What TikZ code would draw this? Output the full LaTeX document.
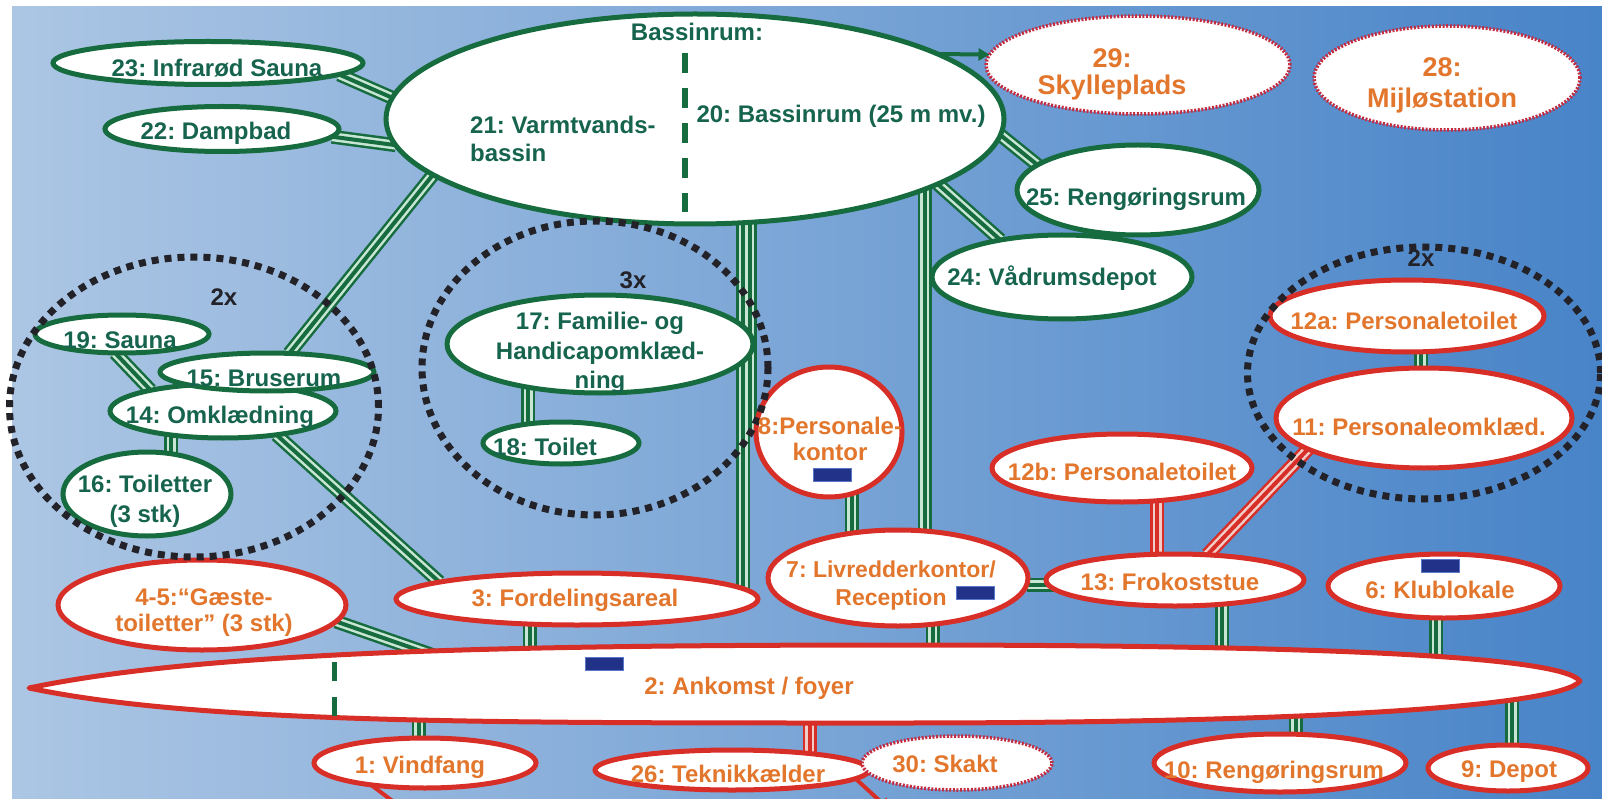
\documentclass[tikz,border=0pt]{standalone}
\usepackage{fontspec}
\setmainfont{Liberation Sans}
\usetikzlibrary{shapes.geometric,arrows.meta,calc}
\frenchspacing
\definecolor{bgL}{RGB}{172,198,228}
\definecolor{bgR}{RGB}{72,132,200}
\definecolor{gline}{RGB}{22,108,62}
\definecolor{glight}{RGB}{200,230,212}
\definecolor{gtext}{RGB}{22,100,78}
\definecolor{rline}{RGB}{216,46,40}
\definecolor{rlight}{RGB}{242,205,200}
\definecolor{otext}{RGB}{226,118,44}
\definecolor{rdot}{RGB}{196,44,66}
\definecolor{dotc}{RGB}{34,34,40}
\definecolor{navy}{RGB}{34,50,136}
\definecolor{navyedge}{RGB}{90,120,200}
\newcommand\fsz[2]{\fontsize{#1}{#2}\selectfont}
\pgfdeclarelayer{bg}
\pgfdeclarelayer{rails}
\pgfsetlayers{bg,rails,main}
\tikzset{
 roomE/.style={ellipse, fill=white, inner sep=0pt, outer sep=0pt},
 gE/.style={roomE, draw=gline, line width=5pt},
 rE/.style={roomE, draw=rline, line width=5pt},
 dE/.style={roomE, draw=rdot, line width=3.5pt, dash pattern=on 2pt off 1.6pt},
 anchorE/.style={ellipse, inner sep=0pt, outer sep=0pt},
 lensbox/.style={draw=rline, fill=white, line width=5pt, line join=round, line cap=round},
 lbl/.style={font=\bfseries\fsz{24}{28}, inner sep=0pt, align=center},
 gT/.style={lbl, text=gtext},
 oT/.style={lbl, text=otext},
 kT/.style={lbl, text=dotc},
 grp/.style={ellipse, draw=dotc, line width=7pt, dash pattern=on 7pt off 6pt, inner sep=0pt},
 railG/.style={draw=gline, line width=14pt, postaction={draw=glight, line width=9pt}, postaction={draw=gline, line width=4pt}},
 railR/.style={draw=rline, line width=14pt, postaction={draw=rlight, line width=9pt}, postaction={draw=rline, line width=4pt}},
 dashG/.style={draw=gline, line width=6pt, dash pattern=on 20pt off 15pt},
 tagbox/.style={rectangle, fill=navy, draw=navyedge, line width=1pt, minimum width=38pt, minimum height=13pt, inner sep=0pt},
 arrG/.style={draw=gline, line width=4pt, -{Triangle[length=11pt,width=12pt]}},
 arrR/.style={draw=rline, line width=4pt, -{Triangle[length=14pt,width=13pt]}},
}
\begin{document}
\begin{tikzpicture}[x=1pt,y=-1pt]
\useasboundingbox (0,0) rectangle (1602,799);
\begin{pgfonlayer}{bg}
\fill[white] (0,0) rectangle (1602,799);
\shade[left color=bgL, right color=bgR] (12,7) rectangle (1602,799);
\end{pgfonlayer}
\clip (0,0) rectangle (1602,799);
% green rooms
\node[gE, minimum width=618pt, minimum height=210pt] (big) at (695,119) {};
\node[gE, minimum width=310pt, minimum height=43pt] (n23) at (208,63) {};
\node[gE, minimum width=234pt, minimum height=45pt] (n22) at (222,129) {};
\node[gE, minimum width=242pt, minimum height=90pt] (n25) at (1138,190) {};
\node[gE, minimum width=260pt, minimum height=84pt] (n24) at (1062,277) {};
\node[gE, minimum width=174pt, minimum height=38pt] (n19) at (122,334) {};
\node[gE, minimum width=226pt, minimum height=54pt] (n14) at (223,411) {};
\node[gE, minimum width=214pt, minimum height=38pt] (n15) at (267,372) {};
\node[gE, minimum width=168pt, minimum height=84pt] (n16) at (147,494) {};
\node[gE, minimum width=306pt, minimum height=98pt] (n17) at (600,344) {};
\node[gE, minimum width=156pt, minimum height=42pt] (n18) at (561,443) {};
% red rooms
\node[rE, minimum width=146pt, minimum height=130pt] (n8) at (829,432) {};
\node[rE, minimum width=260pt, minimum height=68pt] (n12b) at (1122,468) {};
\node[rE, minimum width=274pt, minimum height=72pt] (n12a) at (1407,316) {};
\node[rE, minimum width=296pt, minimum height=100pt] (n11) at (1424,418) {};
\node[rE, minimum width=258pt, minimum height=52pt] (n13) at (1175,580) {};
\node[rE, minimum width=260pt, minimum height=96pt] (n7) at (898,578) {};
\node[rE, minimum width=232pt, minimum height=64pt] (n6) at (1444,586) {};
\node[rE, minimum width=362pt, minimum height=52pt] (n3) at (577,599) {};
\node[rE, minimum width=288pt, minimum height=90pt] (n45) at (202,605) {};
% foyer: lens-shaped room
\node[anchorE, minimum width=1552pt, minimum height=78pt] (n2) at (805,684) {};
\coordinate (tipL) at (29,688);
\coordinate (topM) at (900,645);
\coordinate (tipR) at (1580,681);
\coordinate (botM) at (900,723);
\draw[lensbox] (tipL) .. controls (200,652) and (500,645) .. (topM)
  .. controls (1300,645) and (1560,655) .. (tipR)
  .. controls (1560,707) and (1300,723) .. (botM)
  .. controls (500,723) and (200,724) .. (tipL) -- cycle;
\node[rE, minimum width=222pt, minimum height=50pt] (n1) at (425,763) {};
\node[rE, minimum width=274pt, minimum height=40pt] (n26) at (732,770) {};
\node[rE, minimum width=252pt, minimum height=58pt] (n10) at (1280,763) {};
\node[rE, minimum width=160pt, minimum height=46pt] (n9) at (1508,768) {};
\node[dE, minimum width=304pt, minimum height=98pt] (n29) at (1138,65) {};
\node[dE, minimum width=266pt, minimum height=104pt] (n28) at (1447,78) {};
\node[dE, minimum width=190pt, minimum height=54pt] (n30) at (957,763) {};
% connectors (behind rooms)
\begin{pgfonlayer}{rails}
\draw[railG] (n23.-5) -- (big.176);
\draw[railG] (n22.-4) -- (big.185);
\draw[railG] (big.192) -- (n15.40);
\draw[railG] (n19.-110) -- (n14.164);
\draw[railG] (n14.205) -- (n14.205 |- n16.center);
\draw[railG] (n14.-24) -- (n3.173);
\draw[railG] (big.-65.2) -- (big.-65.2 |- n3.center);
\draw[railG] (n3.208) -- (n3.208 |- n2.center);
\draw[railG] (n45.-7.2) -- ($(n45.-7.2)!1.3!(n2.175.67)$);
\draw[railG] (n2.185) -- (n2.185 |- n1.center);
\draw[railG] (n7.-53.5) -- (n7.-53.5 |- n2.center);
\draw[railG] (big.-17.8) -- (big.-17.8 |- n7.center);
\draw[railG] (big.-62.6) -- (big.-62.6 |- n8.center);
\draw[railG] (n8.-70.5) -- (n8.-70.5 |- n7.center);
\draw[railG] (n7.-3) -- (n7.-3 -| n13.center);
\draw[railG] (n13.-27.8) -- (n13.-27.8 |- n2.center);
\draw[railG] (n6.-104) -- (n6.-104 |- n2.center);
\draw[railG] (n2.center -| n10.61) -- (n10.61);
\draw[railG] (n2.center -| n9.80) -- (n9.80);
\draw[railG] (big.-3.6) -- (n25.166);
\draw[railG] (big.-15.7) -- (n24.149.6);
\draw[railG] (n12a.-68.6) -- (n12a.-68.6 |- n11.center);
\draw[railG] (n17.211.9) -- (n17.211.9 |- n18.center);
\draw[railR] (n12b.-43.3) -- (n12b.-43.3 |- n13.center);
\draw[railR] (n11.195.5) -- (n13.38);
\draw[railR] (n2.center -| n26.12.8) -- (n26.12.8);
\end{pgfonlayer}
% arrows
\draw[arrG] (big.15) -- (n29.176);
\coordinate (e1) at (410,814);
\draw[arrR] (n1.202.5) -- (e1);
\coordinate (e26) at (892,812);
\draw[arrR] (n26.-4.2) -- (e26);
% dashed dividers
\coordinate (da) at (685,53); \coordinate (db) at (685,212);
\draw[dashG] (da) -- (db);
\coordinate (dc) at (334,662); \coordinate (dd) at (334,716);
\draw[dashG, line width=5pt, dash pattern=on 19pt off 16pt] (dc) -- (dd);
% blue tags
\node[tagbox] (b8) at (832,474.5) {};
\node[tagbox] (b7) at (975,593) {};
\node[tagbox] (b2) at (604.5,663.5) {};
\node[tagbox] (b6) at (1440,566) {};
% dotted groups
\node[grp, minimum width=369pt, minimum height=300pt] (gL) at (194,407) {};
\node[grp, minimum width=346pt, minimum height=294pt] (gM) at (595,368) {};
\node[grp, minimum width=353pt, minimum height=252pt] (gR) at (1424,373) {};
% texts
\node[gT] (tBas) at (697,32) {Bassinrum:};
\node[gT, align=left, anchor=west] (t21) at (470,138.5) {21: Varmtvands-\\bassin};
\node[gT] (t20) at (841,116) {20: Bassinrum (25 m mv.)};
\node[gT] (t23) at (217,68) {23: Infrarød Sauna};
\node[gT] (t22) at (216,133) {22: Dampbad};
\node[gT] (t25) at (1136,199) {25: Rengøringsrum};
\node[gT] (t24) at (1052,278) {24: Vådrumsdepot};
\node[gT] (t19) at (120,340) {19: Sauna};
\node[gT] (t15) at (264,378) {15: Bruserum};
\node[gT] (t14) at (220,417) {14: Omklædning};
\node[gT, font=\bfseries\fsz{24}{30}] (t16) at (145,501) {16: Toiletter\\(3 stk)};
\node[gT, font=\bfseries\fsz{24}{29.5}] (t17) at (600,353) {17: Familie- og\\Handicapomklæd-\\ning};
\node[gT] (t18) at (545,447) {18: Toilet};
\node[oT, font=\bfseries\fsz{24}{26}] (t8) at (830,439) {8:Personale-\\kontor};
\node[oT] (t12b) at (1122,472) {12b: Personaletoilet};
\node[oT] (t12a) at (1404,321) {12a: Personaletoilet};
\node[oT] (t11) at (1419,427) {11: Personaleomklæd.};
\node[oT] (t13) at (1170,582) {13: Frokoststue};
\node[oT, font=\bfseries\fsz{23}{28}] (t7) at (891,586) {7: Livredderkontor/\\Reception};
\node[oT] (t6) at (1440,590) {6: Klublokale};
\node[oT] (t3) at (575,600) {3: Fordelingsareal};
\node[oT, font=\bfseries\fsz{24}{26}] (t45) at (204,613) {4-5:“Gæste-\\toiletter” (3 stk)};
\node[oT] (t2) at (749,688) {2: Ankomst / foyer};
\node[oT] (t1) at (420,767) {1: Vindfang};
\node[oT] (t26) at (728,774) {26: Teknikkælder};
\node[oT] (t30) at (945,764) {30: Skakt};
\node[oT] (t10) at (1274,772) {10: Rengøringsrum};
\node[oT] (t9) at (1509,772) {9: Depot};
\node[oT, font=\bfseries\fsz{27}{27}] (t29) at (1112,74) {29:\\Skylleplads};
\node[oT, font=\bfseries\fsz{27}{31}] (t28) at (1442,85) {28:\\Mijløstation};
\node[kT] (k2xL) at (224,297) {2x};
\node[kT] (k3x) at (633,280) {3x};
\node[kT] (k2xR) at (1421,258) {2x};
\end{tikzpicture}
\end{document}
